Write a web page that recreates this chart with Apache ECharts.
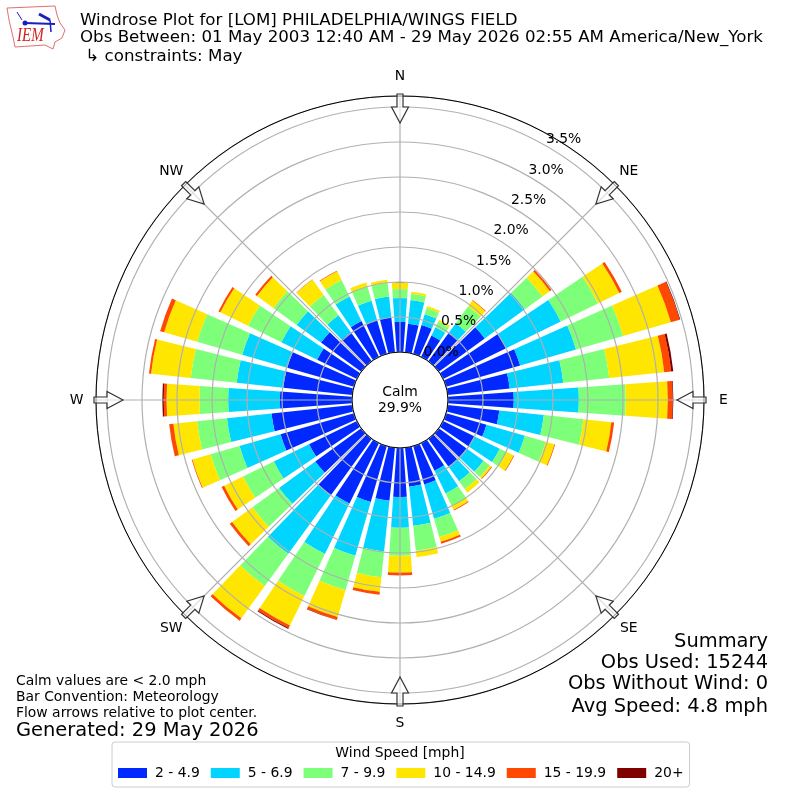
<!DOCTYPE html>
<html><head><meta charset="utf-8">
<style>html,body{margin:0;padding:0;background:#fff}#c{width:800px;height:800px}</style>
<script src="https://cdn.jsdelivr.net/npm/echarts@6/dist/echarts.min.js"></script>
</head><body><div id="c"></div>
<script>
// 36 direction bins, clockwise from N; percent of observations per speed band
const directions = ['0','10','20','30','40','50','60','70','80','90','100','110','120','130','140','150','160','170','180','190','200','210','220','230','240','250','260','270','280','290','300','310','320','330','340','350'];
const speedNames = ['2 - 4.9','5 - 6.9','7 - 9.9','10 - 14.9','15 - 19.9','20+'];
const speedColors = ['#0028ff','#00d4ff','#7dff7a','#ffe600','#ff4800','#800000'];
const band2to5 = [.43,.41,.43,.34,.50,.81,1.00,1.10,.89,.94,.74,.60,.50,.49,.49,.44,.57,.56,.70,.76,.83,.96,.99,.81,.76,1.09,1.16,1.03,.99,.99,.63,.71,.51,.57,.50,.50];
const band5to7 = [.34,.34,.16,.13,.17,.71,.87,.83,.77,.93,.64,.57,.40,.30,.26,.36,.51,.56,.44,.73,.80,.80,1.04,.64,.56,.61,.64,.74,.67,.67,.57,.43,.30,.39,.29,.30];
const band7to10 = [.13,.09,.09,.09,.30,.31,.59,.70,.66,.67,.57,.31,.11,.11,.14,.20,.27,.36,.40,.37,.51,.67,.57,.47,.49,.43,.43,.41,.66,.67,.53,.41,.36,.26,.21,.20];
const band10to15 = [.09,.03,.03,.03,.10,.13,.34,.71,.79,.60,.40,.13,.11,.03,.06,.06,.07,.09,.24,.21,.40,.47,.57,.36,.30,.27,.34,.47,.57,.49,.44,.29,.27,.14,.06,.04];
const band15to20 = [0,0,0,0,.01,.03,.04,.13,.10,.07,.04,.01,.01,.01,0,.01,.03,0,.04,.04,.04,.04,.04,.04,.04,.01,.06,.04,.03,.06,.03,.03,.005,.01,.002,0];
const band20up = [0,0,0,0,0,0,0,.01,.03,.01,0,0,0,0,0,0,0,0,0,0,.005,.015,0,0,0,0,0,.02,0,0,0,0,0,0,0,0];
const bands = [band2to5,band5to7,band7to10,band10to15,band15to20,band20up];
const ringTicks = [0,.5,1,1.5,2,2.5,3,3.5];
const compass = {0:'N',45:'NE',90:'E',135:'SE',180:'S',225:'SW',270:'W',315:'NW'};
const titleLines = ['Windrose Plot for [LOM] PHILADELPHIA/WINGS FIELD','Obs Between: 01 May 2003 12:40 AM - 29 May 2026 02:55 AM America/New_York',' \u21B3 constraints: May'];
const noteLines = ['Calm values are < 2.0 mph','Bar Convention: Meteorology','Flow arrows relative to plot center.'];
const generated = 'Generated: 29 May 2026';
const summaryLines = ['Summary','Obs Used: 15244','Obs Without Wind: 0','Avg Speed: 4.8 mph'];
const calmLines = 'Calm\n29.9%';
const legendTitle = 'Wind Speed [mph]';

const FONT = '"DejaVu Sans"';
const CX = 400, CY = 400, R0 = 48, R1 = 304, RMAX = 3.657;
const chart = echarts.init(document.getElementById('c'), null, {renderer:'canvas'});
const txt = (x,y,text,size,align,extra) => Object.assign({type:'text',x,y,z:20,style:{text,font:size+'px '+FONT,fill:'#000',align:align||'left',verticalAlign:'middle'}},extra||{});
const graphics = [];
[[80,21],[80,38],[80,57]].forEach((p,i)=>graphics.push(txt(p[0],p[1],titleLines[i],16.67)));
[681,697,713].forEach((y,i)=>graphics.push(txt(16,y,noteLines[i],13.9)));
graphics.push(txt(16,731,generated,19.45));
[641.5,662.5,683.5,706.5].forEach((y,i)=>graphics.push(txt(768,y,summaryLines[i],19.45,'right')));
graphics.push({type:'text',x:400,y:400,z:20,style:{text:calmLines,font:'13.9px '+FONT,fill:'#000',align:'center',verticalAlign:'middle',lineHeight:16}});
graphics.push(txt(400,753,legendTitle,13.9,'center'));
// compass labels and flow arrows
Object.keys(compass).forEach(a=>{
  const t = a*Math.PI/180;
  graphics.push(txt(CX+323.5*Math.sin(t),CY-323.5*Math.cos(t),compass[a],13.9,'center'));
  graphics.push({type:'polygon',x:CX,y:CY,rotation:-t,z:15,
    shape:{points:[[-3,-306],[3,-306],[3,-293],[8.5,-293],[0,-277],[-8.5,-293],[-3,-293]]},
    style:{fill:'rgba(255,255,255,0.6)',stroke:'#333',lineWidth:1.2}});
});
// logo
graphics.push({type:'polyline',z:15,shape:{points:[[7,8],[55,6],[57,15],[60,23],[65,30],[62,38],[55,42],[53,49],[45,45],[15,47],[13,37],[9,20],[7,8]]},style:{fill:'none',stroke:'#e07070',lineWidth:1}});
graphics.push({type:'polyline',z:15,shape:{points:[[25,23],[55,24]]},style:{stroke:'#1a1fc0',lineWidth:2}});
graphics.push({type:'polyline',z:15,shape:{points:[[17,12],[22,20]]},style:{stroke:'#1a1fc0',lineWidth:1}});
graphics.push({type:'polyline',z:15,shape:{points:[[39,14],[50,20]]},style:{stroke:'#1a1fc0',lineWidth:3}});
graphics.push({type:'polyline',z:15,shape:{points:[[50,20],[51,32]]},style:{stroke:'#1a1fc0',lineWidth:1.5}});
graphics.push({type:'circle',z:15,shape:{cx:25,cy:23,r:2.5},style:{fill:'#1a1fc0'}});
graphics.push({type:'text',x:17,y:45,z:15,scaleY:1.25,style:{text:'IEM',font:'italic 15px "Liberation Serif"',fill:'#d42020',verticalAlign:'bottom'}});

const speedSeries = speedNames.map((name,i)=>({
  type:'bar',name,coordinateSystem:'polar',polarIndex:0,stack:'w',
  data:bands[i],barWidth:'80%',itemStyle:{color:speedColors[i]},
  emphasis:{disabled:true},animation:false,z:2
}));

chart.setOption({
  animation:false,
  backgroundColor:'#fff',
  textStyle:{fontFamily:FONT},
  polar:[
    {center:[CX,CY],radius:[R0,R1]},
    {center:[CX,CY],radius:[R0,R1]},
    {center:[CX-0.5,CY-6.5],radius:[R0,R1]}
  ],
  angleAxis:[
    {polarIndex:0,type:'category',data:directions,startAngle:95,clockwise:true,show:false,boundaryGap:true},
    {polarIndex:1,type:'value',min:0,max:360,interval:45,startAngle:90,clockwise:true,z:5,
      axisLine:{show:true,lineStyle:{color:'#000',width:1}},axisTick:{show:false},
      splitLine:{show:true,lineStyle:{color:'#b0b0b0',width:1.2}},
      axisLabel:{show:false}},
    {polarIndex:2,type:'value',min:0,max:360,startAngle:60,show:false}
  ],
  radiusAxis:[
    {polarIndex:0,type:'value',min:0,max:RMAX,show:false},
    {polarIndex:1,type:'value',min:0,max:RMAX,interval:.5,z:5,axisLine:{show:false},axisTick:{show:false},axisLabel:{show:false},
      splitLine:{show:true,lineStyle:{color:'#b0b0b0',width:1.2}}},
    {polarIndex:2,type:'value',min:0,max:RMAX,interval:.5,z:6,axisLine:{show:false},axisTick:{show:false},splitLine:{show:false},
      axisLabel:{show:true,margin:0,rotate:0,align:'left',verticalAlign:'middle',fontSize:13.9,color:'#000',fontFamily:FONT,
        customValues:ringTicks,formatter:v=>v.toFixed(1)+'%'}}
  ],
  legend:{left:112,top:742,orient:'horizontal',padding:[24,6,7,6],itemWidth:29,itemHeight:10,itemGap:11,icon:'rect',
    borderColor:'#ccc',borderWidth:1,borderRadius:3,selectedMode:false,
    textStyle:{fontSize:13.9,color:'#000',fontFamily:FONT,padding:[0,0,0,3]},data:speedNames},
  series:speedSeries,
  graphic:graphics
});
</script></body></html>
